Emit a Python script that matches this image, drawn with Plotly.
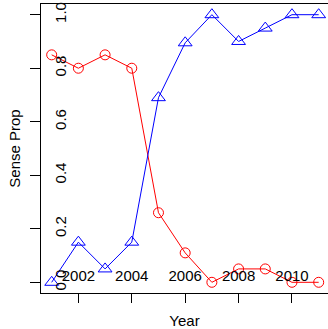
import plotly.graph_objects as go

years = [2001, 2002, 2003, 2004, 2005, 2006, 2007, 2008, 2009, 2010, 2011]
red_prop = [0.85, 0.80, 0.85, 0.80, 0.26, 0.11, 0.00, 0.05, 0.05, 0.00, 0.00]
blue_prop = [0.00, 0.15, 0.05, 0.15, 0.69, 0.895, 1.00, 0.90, 0.95, 1.00, 1.00]
x_ticks = [2002, 2004, 2006, 2008, 2010]
y_ticks = [0.0, 0.2, 0.4, 0.6, 0.8, 1.0]
y_labels = ["0.0", "0.2", "0.4", "0.6", "0.8", "1.0"]

x_range = [2000.6, 2000.6 + 287 / 26.7]
y_range = [-0.04, 1.04]

fig = go.Figure()
fig.add_trace(go.Scatter(
    x=years, y=red_prop, mode="lines+markers",
    line=dict(color="red", width=1),
    marker=dict(symbol="circle-open", size=10, color="red", line=dict(width=1)),
    showlegend=False))
fig.add_trace(go.Scatter(
    x=years, y=blue_prop, mode="lines+markers",
    line=dict(color="blue", width=1),
    marker=dict(symbol="triangle-up-open", size=12, color="blue", line=dict(width=1)),
    showlegend=False))

font = dict(family="Liberation Sans, Arial, sans-serif", size=15, color="black")
fig.update_layout(
    width=328, height=329,
    margin=dict(l=41, r=0, t=4, b=36),
    plot_bgcolor="white", paper_bgcolor="white",
    font=font,
    xaxis=dict(
        range=x_range, automargin=False,
        tickvals=x_ticks, showticklabels=False,
        ticks="outside", ticklen=9, tickcolor="black", tickwidth=1,
        showline=True, linecolor="black", linewidth=1, mirror=True,
        showgrid=False, zeroline=False,
        title=dict(text="Year", standoff=15, font=font)),
    yaxis=dict(
        range=y_range, automargin=False,
        tickvals=y_ticks, showticklabels=False,
        ticks="outside", ticklen=10, tickcolor="black", tickwidth=1,
        showline=True, linecolor="black", linewidth=1,
        showgrid=False, zeroline=False,
        title=dict(text="Sense Prop", standoff=5, font=font)),
    xaxis2=dict(
        overlaying="x", matches="x", range=x_range, side="bottom", automargin=False,
        tickvals=x_ticks, ticktext=[str(v) for v in x_ticks], tickfont=font,
        ticks="", ticklabelposition="inside", ticklabelstandoff=6,
        ticklabeloverflow="allow",
        showline=False, showgrid=False, zeroline=False),
    yaxis2=dict(
        overlaying="y", matches="y", range=y_range, side="left", automargin=False,
        tickvals=y_ticks, ticktext=y_labels, tickangle=-90, tickfont=font,
        ticks="", ticklabelposition="inside", ticklabelstandoff=4,
        ticklabeloverflow="allow",
        showline=False, showgrid=False, zeroline=False),
)
# invisible trace that anchors the secondary (label) axes
fig.add_trace(go.Scatter(x=[years[0]], y=[red_prop[0]], xaxis="x2", yaxis="y2",
                         mode="markers", marker=dict(opacity=0), hoverinfo="skip",
                         showlegend=False))
fig.write_html("out.html", config={"displayModeBar": False},
               post_script="document.body.style.margin='0';")
